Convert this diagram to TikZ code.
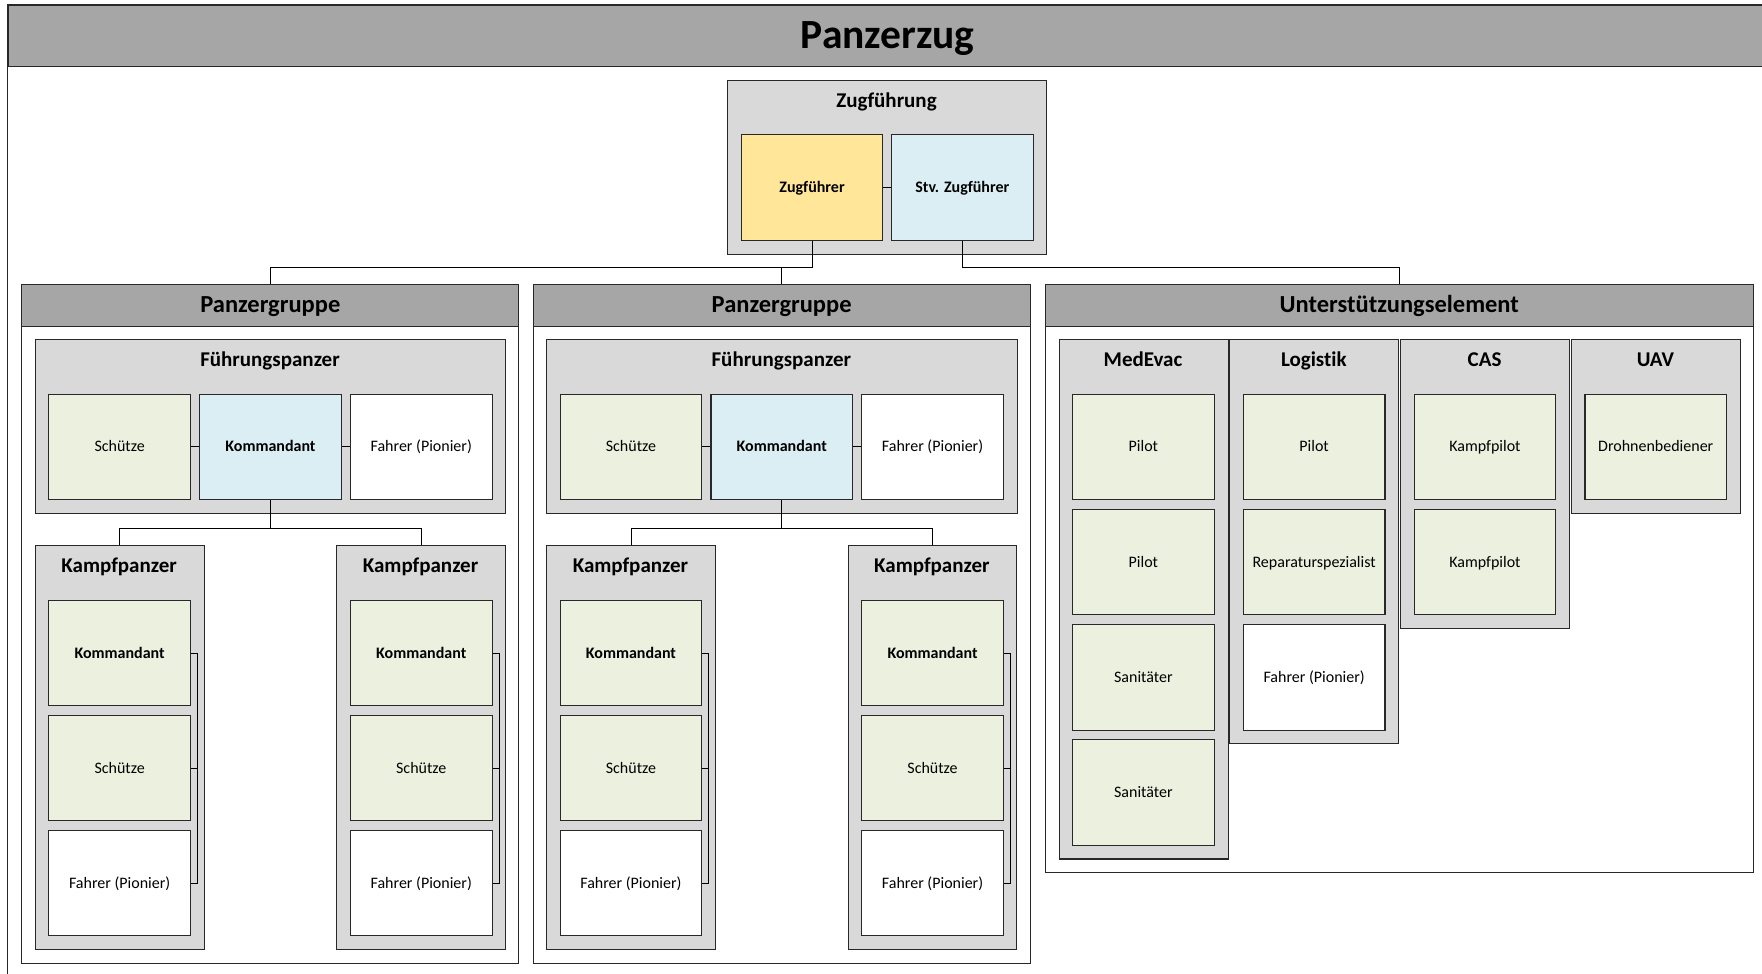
\documentclass[tikz,border=0pt]{standalone}
\usepackage{fontspec}
\setmainfont{Carlito}[Ligatures=NoCommon]
\definecolor{hdrgray}{RGB}{166,166,166}
\definecolor{grpgray}{RGB}{217,217,217}
\definecolor{cmdyellow}{RGB}{255,230,153}
\definecolor{cmdblue}{RGB}{219,238,244}
\definecolor{crewgreen}{RGB}{235,241,222}
\definecolor{edge}{RGB}{40,40,40}

\newcommand\fTitle{\fontsize{41.5}{44}\bfseries\selectfont}
\newcommand\fHead{\fontsize{24.5}{26}\bfseries\selectfont}
\newcommand\fUnit{\fontsize{21}{23}\bfseries\selectfont}
\newcommand\fRole{\fontsize{16}{18}\selectfont}

\tikzset{
  bx/.style={draw=edge, line width=1.1pt, inner sep=0pt, anchor=north west},
  hdr/.style={bx, fill=hdrgray, font=\fHead, text height=15pt, text depth=0pt},
  topbar/.style={hdr, font=\fTitle, text height=25.5pt},
  body/.style={bx, fill=white},
  unitbox/.style={bx, fill=grpgray},
  unittitle/.style={inner sep=0pt, anchor=center, font=\fUnit, text height=13pt, text depth=0pt},
  role/.style={bx, minimum width=141.6pt, minimum height=105.6pt, font=\fRole,
    text height=10pt, text depth=0pt},
  lead/.style={role, font=\fRole\bfseries},
  green/.style={fill=crewgreen},
  blue/.style={fill=cmdblue},
  yellow/.style={fill=cmdyellow},
  plain/.style={fill=white},
  conn/.style={draw=black, line width=1pt},
}

% grey container with its title: name, x, y, width, height, title
\newcommand\unitat[6]{%
  \node[unitbox, minimum width=#4pt, minimum height=#5pt] (#1) at (#2,#3) {};
  \node[unittitle] (#1-t) at ({#2+#4/2},{#3+20.6}) {#6};}

\begin{document}
\begin{tikzpicture}[x=1pt,y=-1pt]
\clip (0,0) rectangle (1762,974);
\fill[white] (0,0) rectangle (1762,974);

% outer frame and title bar
\draw[draw=edge, line width=1.1pt] (7.5,4.5) rectangle (1780,990);
\node[topbar, minimum width=1759pt, minimum height=61.5pt] (title) at (7.5,4.5) {Panzerzug};

% platoon command
\unitat{zug}{727}{80}{319}{174}{Zugführung}
\node[lead, yellow, minimum height=106pt] (zf) at (740.7,134.3) {Zugführer};
\node[lead, blue, minimum height=106pt] (stv) at (891,134.3) {Stv. Zugführer};

% the two tank sections
\foreach \p/\o in {a/0, b/511.3} {
  \node[body, minimum width=497pt, minimum height=678.4pt] (pg\p) at ({\o+21.3},284.3) {};
  \node[hdr, minimum width=497pt, minimum height=41.2pt] (pgh\p) at ({\o+21.3},284.3) {Panzergruppe};

  \unitat{fp\p}{\o+34.8}{339.3}{470.4}{173.7}{Führungspanzer}
  \node[role, green] (fps\p) at ({\o+48.3},393.5) {Schütze};
  \node[lead, blue]  (fpk\p) at ({\o+199.1},393.5) {Kommandant};
  \node[role, plain] (fpf\p) at ({\o+349.9},393.5) {Fahrer (Pionier)};

  \unitat{kl\p}{\o+34.8}{545}{168.7}{404.3}{Kampfpanzer}
  \node[lead, green] (klk\p) at ({\o+48.3},599.7) {Kommandant};
  \node[role, green] (kls\p) at ({\o+48.3},714.7) {Schütze};
  \node[role, plain] (klf\p) at ({\o+48.3},829.7) {Fahrer (Pionier)};

  \unitat{kr\p}{\o+336.2}{545}{168.7}{404.3}{Kampfpanzer}
  \node[lead, green] (krk\p) at ({\o+349.9},599.7) {Kommandant};
  \node[role, green] (krs\p) at ({\o+349.9},714.7) {Schütze};
  \node[role, plain] (krf\p) at ({\o+349.9},829.7) {Fahrer (Pionier)};

  % links inside the section
  \coordinate (fpbus\p) at (0,528.3);
  \draw[conn] (fps\p.east) -- (fpk\p.west);
  \draw[conn] (fpk\p.east) -- (fpf\p.west);
  \draw[conn] (fpk\p.south) -- (fpk\p.south |- fpbus\p) -| (kl\p.north);
  \draw[conn] (fpk\p.south |- fpbus\p) -| (kr\p.north);
  \draw[conn] (klk\p.east) -- ++(6.4,0) |- (klf\p.east);
  \draw[conn] (kls\p.east) -- ++(6.4,0);
  \draw[conn] (krk\p.east) -- ++(6.4,0) |- (krf\p.east);
  \draw[conn] (krs\p.east) -- ++(6.4,0);
}

% support element
\node[body, minimum width=708.5pt, minimum height=587.7pt] (ue) at (1044.5,284.3) {};
\node[hdr, minimum width=708.5pt, minimum height=41.2pt] (ueh) at (1044.5,284.3) {Unterstützungselement};

\unitat{med}{1058.5}{339.3}{169}{519.1}{MedEvac}
\node[role, green] (med1) at (1072,393.5) {Pilot};
\node[role, green] (med2) at (1072,508.7) {Pilot};
\node[role, green] (med3) at (1072,623.9) {Sanitäter};
\node[role, green] (med4) at (1072,739.1) {Sanitäter};

\unitat{log}{1229.3}{339.3}{169}{403.9}{Logistik}
\node[role, green] (log1) at (1242.8,393.5) {Pilot};
\node[role, green] (log2) at (1242.8,508.7) {Reparaturspezialist};
\node[role, plain] (log3) at (1242.8,623.9) {Fahrer (Pionier)};

\unitat{cas}{1400.1}{339.3}{169}{288.7}{CAS}
\node[role, green] (cas1) at (1413.6,393.5) {Kampfpilot};
\node[role, green] (cas2) at (1413.6,508.7) {Kampfpilot};

\unitat{uav}{1570.9}{339.3}{169}{173.5}{UAV}
\node[role, green] (uav1) at (1584.4,393.5) {Drohnenbediener};

% command links
\coordinate (bus) at (0,267.7);
\draw[conn] (zf.east) -- (stv.west);
\draw[conn] (zf.south) -- (zf.south |- bus) -| (pgha.north);
\draw[conn] (pghb.north) -- (pghb.north |- bus);
\draw[conn] (stv.south) -- (stv.south |- bus) -| (ueh.north);
\end{tikzpicture}
\end{document}
